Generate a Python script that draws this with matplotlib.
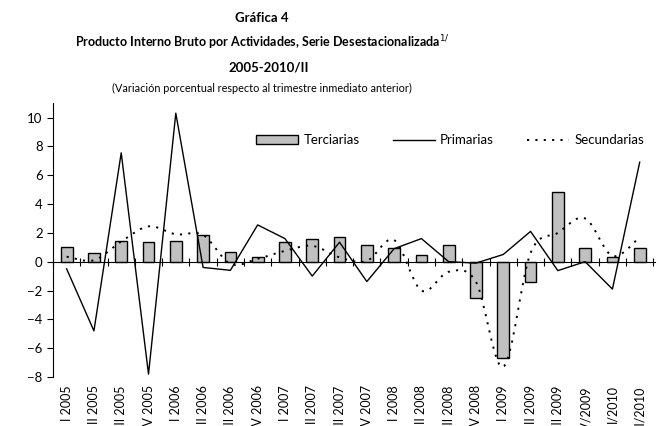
import matplotlib
matplotlib.use("Agg")
import matplotlib.pyplot as plt
from matplotlib.path import Path
from matplotlib.patches import PathPatch, Patch
from matplotlib.lines import Line2D
import numpy as np

plt.rcParams['font.family'] = ['Lato', 'DejaVu Sans']

trimestres = ["I 2005", "II 2005", "III 2005", "IV 2005",
              "I 2006", "II 2006", "III 2006", "IV 2006",
              "I 2007", "II 2007", "III 2007", "IV 2007",
              "I 2008", "II 2008", "III 2008", "IV 2008",
              "I 2009", "II 2009", "III 2009", "IV/2009",
              "I/2010", "II/2010"]
terciarias = [1.0, 0.6, 1.45, 1.37, 1.41, 1.85, 0.65, 0.35, 1.37, 1.6, 1.72,
              1.13, 0.95, 0.45, 1.15, -2.55, -6.7, -1.4, 4.82, 0.92, 0.3, 0.98]
primarias = [-0.5, -4.8, 7.55, -7.8, 10.3, -0.4, -0.6, 2.55, 1.6, -1.0, 1.35,
             -1.38, 0.9, 1.6, 0.0, -0.1, 0.5, 2.1, -0.62, 0.0, -1.9, 6.9]
secundarias = [0.35, 0.1, 1.4, 2.45, 1.9, 1.85, -0.15, 0.2, 0.75, 1.1, 0.3,
               0.05, 1.5, -2.0, -0.7, -1.4, -7.3, 0.6, 2.0, 3.0, 0.4, 1.7]

x = np.arange(len(trimestres))

fig = plt.figure(figsize=(6.6, 4.26), dpi=100)
ax = fig.add_axes([0.0803, 0.115, 0.9117, 0.643])

ax.bar(x, terciarias, width=0.43, color='#C0C0C0', edgecolor='black',
       linewidth=1.0, zorder=2)
ax.plot(x, primarias, color='black', linewidth=1.0, zorder=3)

# linea suavizada (estilo Excel, Catmull-Rom -> Bezier)
verts = [(x[0], secundarias[0])]
codes = [Path.MOVETO]
y = np.array(secundarias, dtype=float)
n = len(y)
for i in range(n - 1):
    i0 = max(i - 1, 0)
    i3 = min(i + 2, n - 1)
    c1 = (x[i] + (x[i + 1] - x[i0]) / 6, y[i] + (y[i + 1] - y[i0]) / 6)
    c2 = (x[i + 1] - (x[i3] - x[i]) / 6, y[i + 1] - (y[i3] - y[i]) / 6)
    verts += [c1, c2, (x[i + 1], y[i + 1])]
    codes += [Path.CURVE4] * 3
estilo_sec = dict(color='black', linewidth=1.4, linestyle=(0, (1.1, 3.2)))
ax.add_patch(PathPatch(Path(verts, codes), fill=False, zorder=3, **estilo_sec))

ax.set_xlim(-0.5, 21.55)
ax.set_ylim(-8, 11)
ax.set_yticks(range(-8, 11, 2))
ax.tick_params(axis='y', direction='out', length=4, width=0.8, labelsize=9.5)

ax.spines['top'].set_visible(False)
ax.spines['right'].set_visible(False)
ax.spines['bottom'].set_position(('data', 0))
ax.spines['left'].set_linewidth(0.8)
ax.spines['bottom'].set_linewidth(0.8)
ax.set_xticks(np.arange(-0.5, 22, 1))
ax.set_xticklabels([])
ax.tick_params(axis='x', direction='inout', length=6, width=0.8)

for xi, lab in zip(x, trimestres):
    ax.text(xi, -0.03, lab, rotation=90, ha='center', va='top', fontsize=9,
            transform=ax.get_xaxis_transform(), clip_on=False)

ax.set_ylabel('(Porcentaje)', fontsize=8.5)
ax.yaxis.set_label_coords(-0.088, 0.43)

handles = [Patch(facecolor='#C0C0C0', edgecolor='black', linewidth=1.0),
           Line2D([], [], color='black', linewidth=1.0),
           Line2D([], [], **estilo_sec)]
fig.legend(handles, ['Terciarias', 'Primarias', 'Secundarias'], ncol=3,
           loc='center', bbox_to_anchor=(0.682, 0.671), frameon=False,
           fontsize=9.5, handlelength=3.2, handletextpad=0.4, columnspacing=2.5,
           handleheight=0.6)

cx = 0.397
fig.text(cx, 1 - 18 / 426, 'Gráfica 4', ha='center', va='center',
         fontsize=9.5, fontweight='bold')
fig.text(cx, 1 - 43 / 426,
         'Producto Interno Bruto por Actividades, Serie Desestacionalizada$^{1/}$',
         ha='center', va='center', fontsize=9, fontweight='bold')
fig.text(cx + 0.01, 1 - 67 / 426, '2005-2010/II', ha='center', va='center',
         fontsize=9.5, fontweight='bold')
fig.text(cx, 1 - 88 / 426,
         '(Variación porcentual respecto al trimestre inmediato anterior)',
         ha='center', va='center', fontsize=7.8)

fig.savefig('out.png', dpi=100)
